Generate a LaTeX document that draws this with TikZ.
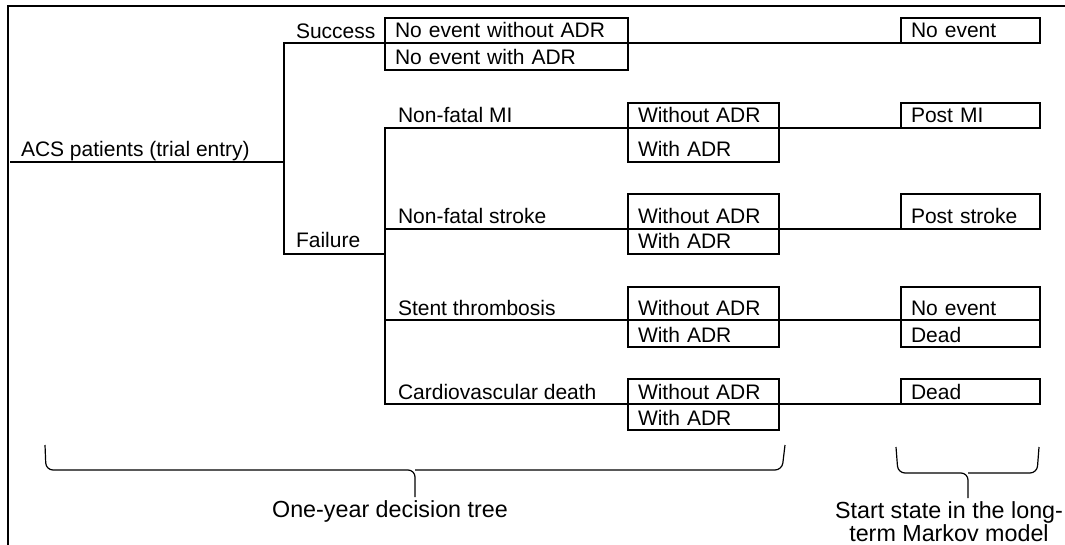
\documentclass[tikz,border=0pt]{standalone}
\usepackage{fontspec}
\setmainfont{Liberation Sans}
\usetikzlibrary{positioning}

\tikzset{
  cell/.style={draw,outer sep=0pt,inner ysep=0pt,inner xsep=10pt,text depth=5pt,align=left},
  lbl/.style={anchor=base west,inner sep=0pt},
  brc/.style={line width=1.2pt,rounded corners=7pt},
  big/.style={inner sep=0pt,font=\fontsize{23.3}{23.5}\selectfont}
}

\begin{document}
\begin{tikzpicture}[x=1pt,y=-1pt,line width=2pt,font=\fontsize{21}{24}\selectfont]
\useasboundingbox (0,0) rectangle (1065,545);
\draw (8,545) -- (8,6) -- (1065,6);

\coordinate (start) at (10,162);
\coordinate (J1) at (284,162);
\coordinate (J2) at (385,254);
\node[lbl] (root) at (20,157) {ACS patients (trial entry)};
\node[lbl] (succ) at (295,39) {Success};
\node[lbl] (fail) at (295,248) {Failure};

\node[cell,text width=223pt,text height=20pt,anchor=south west] (S1) at (385,43) {No event without ADR};
\node[cell,text width=223pt,text height=22pt,below=0pt of S1] (S2) {No event with ADR};
\node[cell,text width=119pt,text height=20pt,anchor=south west] (R0) at (901,43) {No event};

\draw (start) -- (J1) |- (S1.south west);
\draw (J1) |- (J2);
\draw (S1.south east) -- (R0.south west);

\foreach \y/\a/\b/\t [count=\n] in {128/20/29/Non-fatal MI,229/30/20/Non-fatal stroke,320/28/22/Stent thrombosis,404/20/21/Cardiovascular death}{
  \node[lbl] (E\n) at (397,\y-5) {\t};
  \node[cell,text width=131pt,text height=\a pt,anchor=south west] (A\n) at (628,\y) {Without ADR};
  \node[cell,text width=131pt,text height=\b pt,below=0pt of A\n] (B\n) {With ADR};
  \draw (J2) |- (A\n.south west);
}

\node[cell,text width=119pt,text height=20pt,anchor=south west] (R1) at (901,128) {Post MI};
\node[cell,text width=119pt,text height=30pt,anchor=south west] (R2) at (901,229) {Post stroke};
\node[cell,text width=119pt,text height=28pt,anchor=south west] (R3) at (901,320) {No event};
\node[cell,text width=119pt,text height=22pt,below=0pt of R3] (R3b) {Dead};
\node[cell,text width=119pt,text height=20pt,anchor=south west] (R4) at (901,404) {Dead};
\foreach \n in {1,...,4}
  \draw (A\n.south east) -- (R\n.south west);

\coordinate (T1) at (415,497);
\coordinate (T2) at (968,498);
\draw[brc] (45,445) -- (46,470) -- (415,470) -- (T1);
\draw[brc] (785,445) -- (782,470) -- (415,470);
\draw[brc] (896,447) -- (898,473) -- (968,473) -- (T2);
\draw[brc] (1039,447) -- (1037,473) -- (968,473);
\node[big,anchor=base] (tree) at (390,517) {One-year decision tree};
\node[big,anchor=north,align=center] (markov) at (949,500.5) {Start state in the long-\\term Markov model};
\end{tikzpicture}
\end{document}
